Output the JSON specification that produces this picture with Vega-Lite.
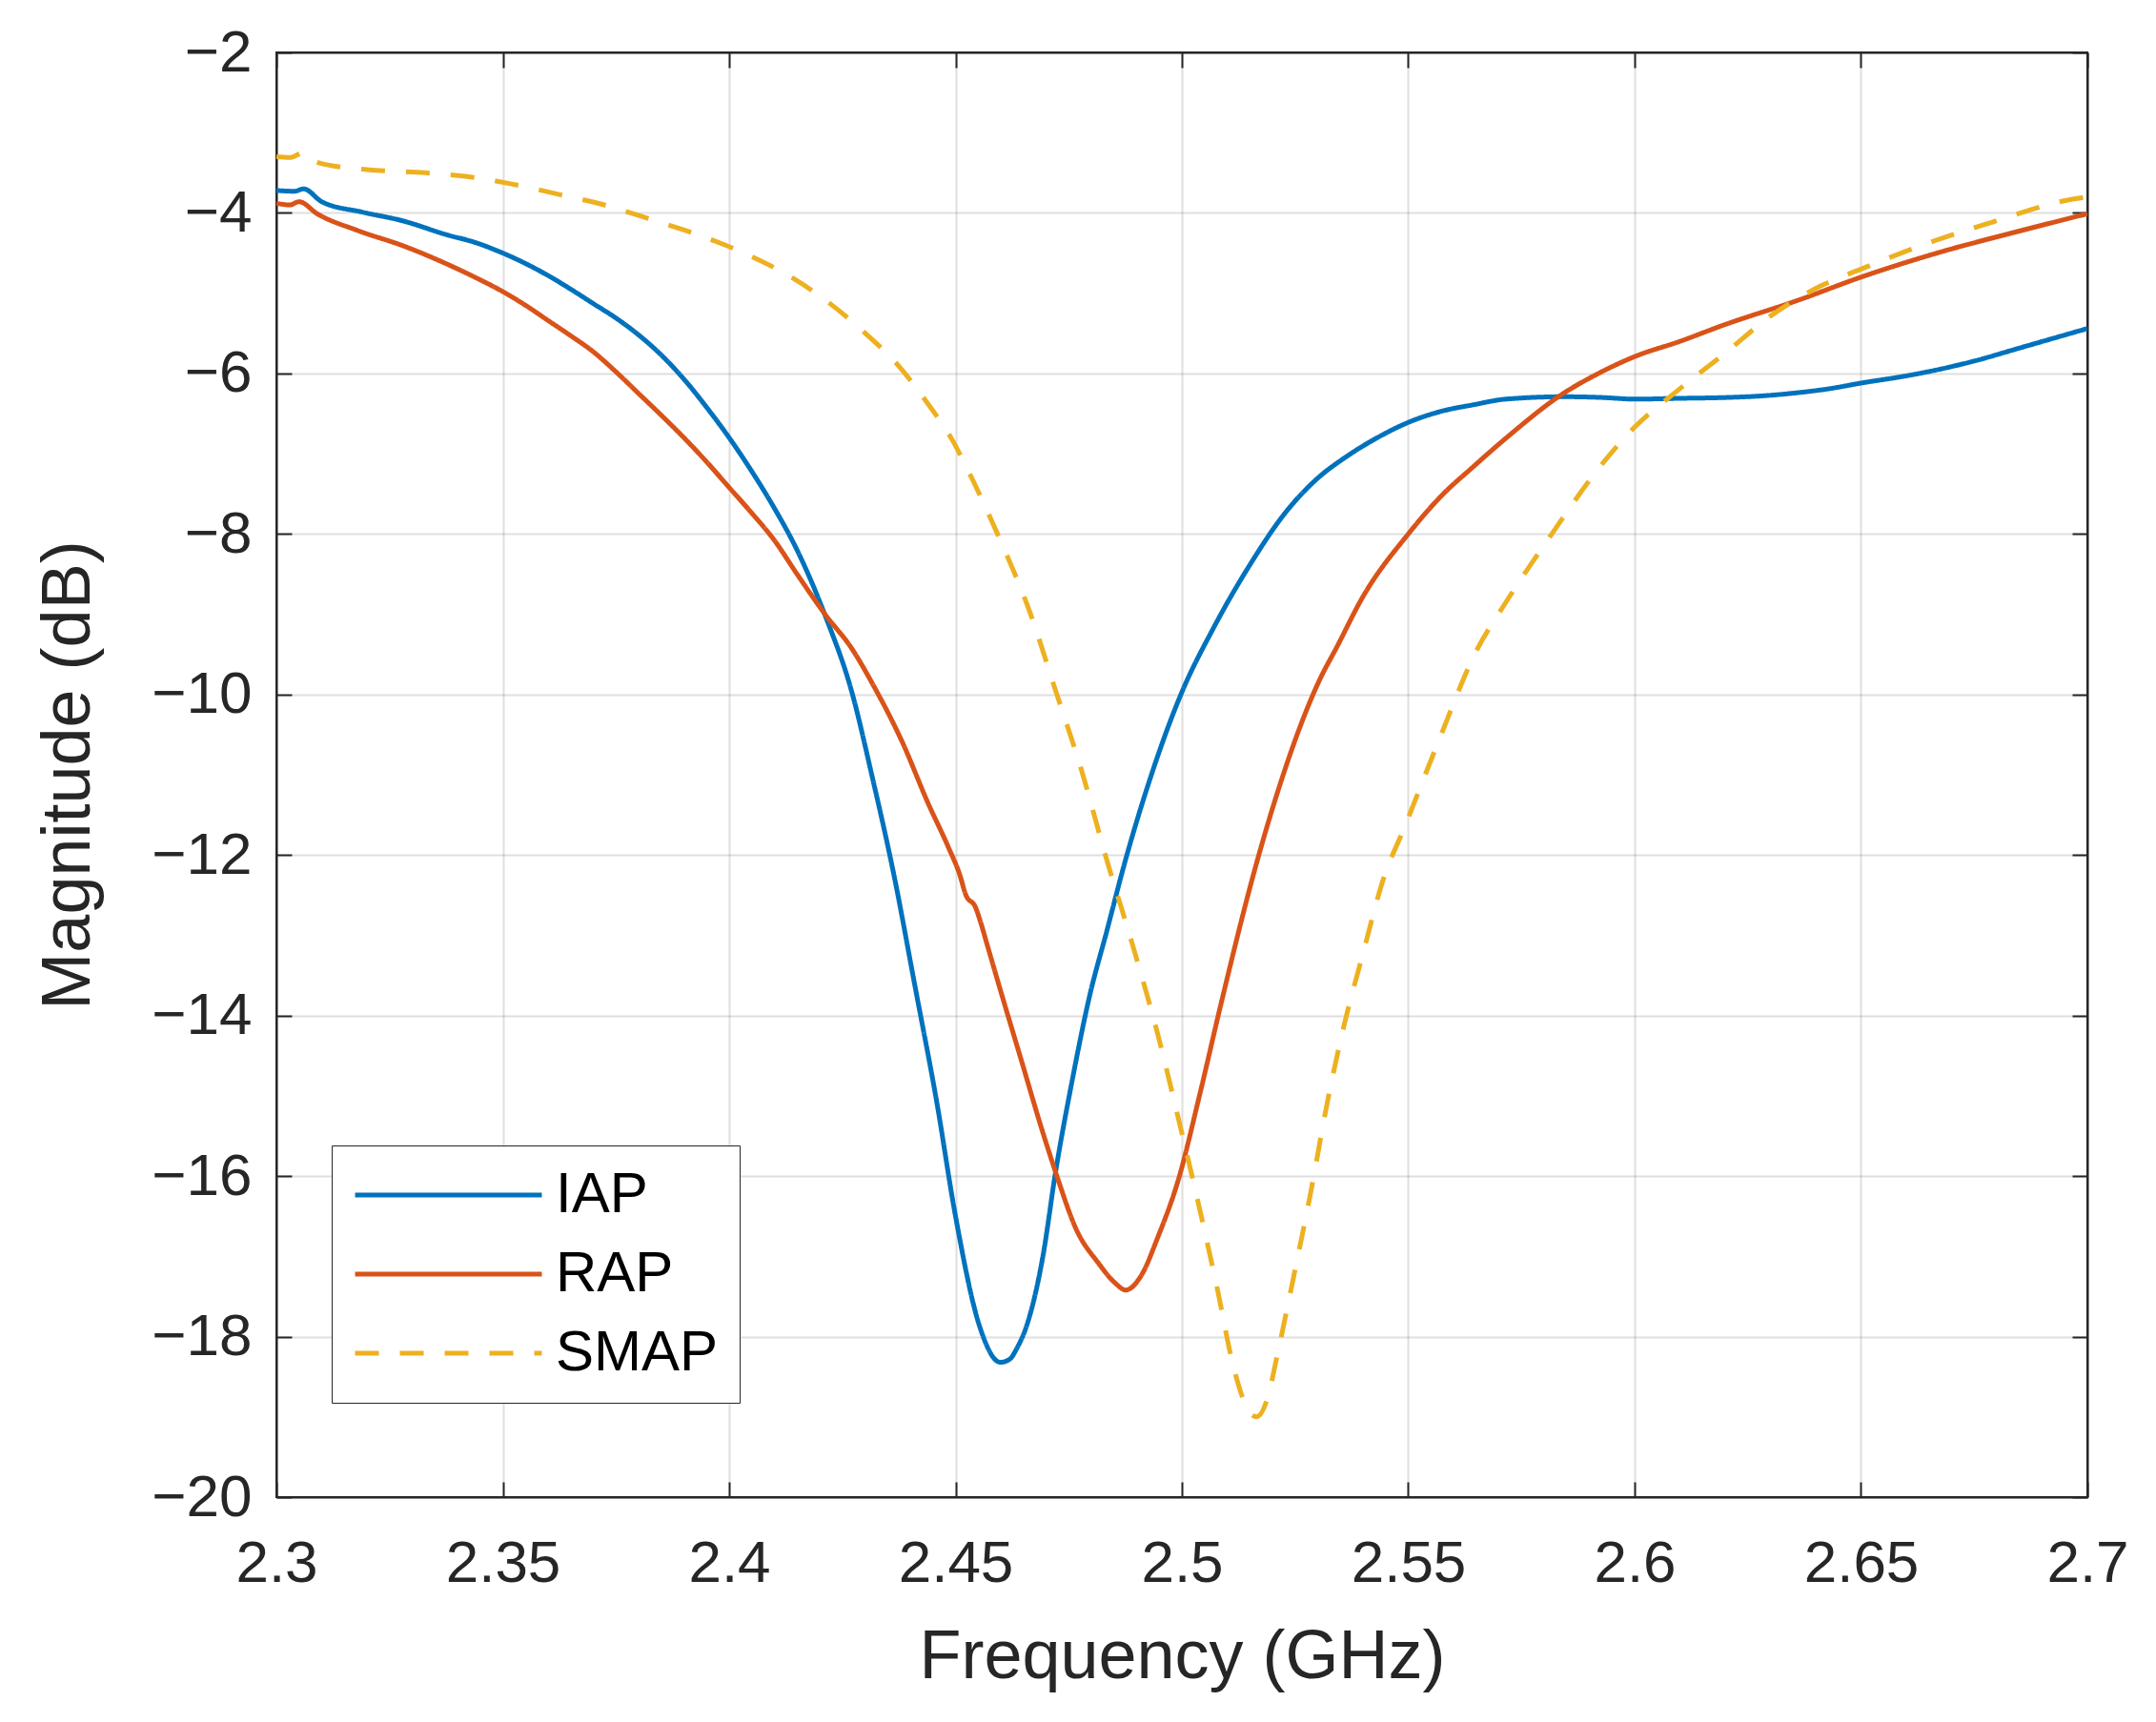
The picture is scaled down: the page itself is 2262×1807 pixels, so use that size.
{
  "$schema": "https://vega.github.io/schema/vega-lite/v6.json",
  "width": 1900,
  "height": 1516,
  "autosize": {"type": "none"},
  "padding": {"left": 290, "top": 55, "right": 72, "bottom": 236},
  "background": "white",
  "data": {
    "values": [
      {"series": "IAP", "f": 2.300, "mag": -3.72},
      {"series": "IAP", "f": 2.304, "mag": -3.73},
      {"series": "IAP", "f": 2.306, "mag": -3.70},
      {"series": "IAP", "f": 2.310, "mag": -3.86},
      {"series": "IAP", "f": 2.319, "mag": -3.99},
      {"series": "IAP", "f": 2.328, "mag": -4.10},
      {"series": "IAP", "f": 2.3375, "mag": -4.27},
      {"series": "IAP", "f": 2.344, "mag": -4.37},
      {"series": "IAP", "f": 2.350, "mag": -4.50},
      {"series": "IAP", "f": 2.355, "mag": -4.63},
      {"series": "IAP", "f": 2.360, "mag": -4.78},
      {"series": "IAP", "f": 2.365, "mag": -4.95},
      {"series": "IAP", "f": 2.370, "mag": -5.13},
      {"series": "IAP", "f": 2.375, "mag": -5.31},
      {"series": "IAP", "f": 2.380, "mag": -5.52},
      {"series": "IAP", "f": 2.385, "mag": -5.77},
      {"series": "IAP", "f": 2.390, "mag": -6.07},
      {"series": "IAP", "f": 2.395, "mag": -6.42},
      {"series": "IAP", "f": 2.400, "mag": -6.80},
      {"series": "IAP", "f": 2.405, "mag": -7.22},
      {"series": "IAP", "f": 2.410, "mag": -7.68},
      {"series": "IAP", "f": 2.415, "mag": -8.20},
      {"series": "IAP", "f": 2.4213, "mag": -9.03},
      {"series": "IAP", "f": 2.427, "mag": -9.95},
      {"series": "IAP", "f": 2.4317, "mag": -11.05},
      {"series": "IAP", "f": 2.4364, "mag": -12.25},
      {"series": "IAP", "f": 2.4411, "mag": -13.65},
      {"series": "IAP", "f": 2.4458, "mag": -15.06},
      {"series": "IAP", "f": 2.450, "mag": -16.50},
      {"series": "IAP", "f": 2.4552, "mag": -17.85},
      {"series": "IAP", "f": 2.4599, "mag": -18.32},
      {"series": "IAP", "f": 2.462, "mag": -18.28},
      {"series": "IAP", "f": 2.4636, "mag": -18.14},
      {"series": "IAP", "f": 2.4655, "mag": -17.90},
      {"series": "IAP", "f": 2.4693, "mag": -17.00},
      {"series": "IAP", "f": 2.4721, "mag": -15.95},
      {"series": "IAP", "f": 2.4758, "mag": -14.80},
      {"series": "IAP", "f": 2.4796, "mag": -13.76},
      {"series": "IAP", "f": 2.4834, "mag": -12.95},
      {"series": "IAP", "f": 2.4876, "mag": -12.05},
      {"series": "IAP", "f": 2.4928, "mag": -11.08},
      {"series": "IAP", "f": 2.500, "mag": -9.97},
      {"series": "IAP", "f": 2.5069, "mag": -9.18},
      {"series": "IAP", "f": 2.5154, "mag": -8.35},
      {"series": "IAP", "f": 2.5225, "mag": -7.76},
      {"series": "IAP", "f": 2.5295, "mag": -7.33},
      {"series": "IAP", "f": 2.5365, "mag": -7.03},
      {"series": "IAP", "f": 2.5435, "mag": -6.79},
      {"series": "IAP", "f": 2.550, "mag": -6.61},
      {"series": "IAP", "f": 2.5574, "mag": -6.47},
      {"series": "IAP", "f": 2.5644, "mag": -6.39},
      {"series": "IAP", "f": 2.5715, "mag": -6.32},
      {"series": "IAP", "f": 2.5845, "mag": -6.29},
      {"series": "IAP", "f": 2.593, "mag": -6.30},
      {"series": "IAP", "f": 2.600, "mag": -6.32},
      {"series": "IAP", "f": 2.610, "mag": -6.31},
      {"series": "IAP", "f": 2.620, "mag": -6.30},
      {"series": "IAP", "f": 2.628, "mag": -6.28},
      {"series": "IAP", "f": 2.636, "mag": -6.24},
      {"series": "IAP", "f": 2.643, "mag": -6.19},
      {"series": "IAP", "f": 2.650, "mag": -6.12},
      {"series": "IAP", "f": 2.660, "mag": -6.03},
      {"series": "IAP", "f": 2.668, "mag": -5.94},
      {"series": "IAP", "f": 2.676, "mag": -5.83},
      {"series": "IAP", "f": 2.684, "mag": -5.70},
      {"series": "IAP", "f": 2.692, "mag": -5.57},
      {"series": "IAP", "f": 2.700, "mag": -5.44},

      {"series": "RAP", "f": 2.300, "mag": -3.88},
      {"series": "RAP", "f": 2.303, "mag": -3.90},
      {"series": "RAP", "f": 2.305, "mag": -3.86},
      {"series": "RAP", "f": 2.309, "mag": -4.01},
      {"series": "RAP", "f": 2.318, "mag": -4.22},
      {"series": "RAP", "f": 2.328, "mag": -4.41},
      {"series": "RAP", "f": 2.337, "mag": -4.62},
      {"series": "RAP", "f": 2.3438, "mag": -4.80},
      {"series": "RAP", "f": 2.350, "mag": -4.98},
      {"series": "RAP", "f": 2.355, "mag": -5.15},
      {"series": "RAP", "f": 2.360, "mag": -5.34},
      {"series": "RAP", "f": 2.365, "mag": -5.53},
      {"series": "RAP", "f": 2.370, "mag": -5.73},
      {"series": "RAP", "f": 2.375, "mag": -5.98},
      {"series": "RAP", "f": 2.380, "mag": -6.25},
      {"series": "RAP", "f": 2.385, "mag": -6.52},
      {"series": "RAP", "f": 2.390, "mag": -6.80},
      {"series": "RAP", "f": 2.395, "mag": -7.10},
      {"series": "RAP", "f": 2.400, "mag": -7.42},
      {"series": "RAP", "f": 2.405, "mag": -7.74},
      {"series": "RAP", "f": 2.410, "mag": -8.08},
      {"series": "RAP", "f": 2.415, "mag": -8.50},
      {"series": "RAP", "f": 2.4213, "mag": -9.01},
      {"series": "RAP", "f": 2.427, "mag": -9.42},
      {"series": "RAP", "f": 2.4317, "mag": -9.87},
      {"series": "RAP", "f": 2.4383, "mag": -10.60},
      {"series": "RAP", "f": 2.4439, "mag": -11.35},
      {"series": "RAP", "f": 2.4484, "mag": -11.90},
      {"series": "RAP", "f": 2.4509, "mag": -12.24},
      {"series": "RAP", "f": 2.4523, "mag": -12.50},
      {"series": "RAP", "f": 2.4544, "mag": -12.65},
      {"series": "RAP", "f": 2.4555, "mag": -12.83},
      {"series": "RAP", "f": 2.4569, "mag": -13.10},
      {"series": "RAP", "f": 2.4600, "mag": -13.70},
      {"series": "RAP", "f": 2.4646, "mag": -14.57},
      {"series": "RAP", "f": 2.4693, "mag": -15.46},
      {"series": "RAP", "f": 2.4721, "mag": -15.95},
      {"series": "RAP", "f": 2.4768, "mag": -16.68},
      {"series": "RAP", "f": 2.4815, "mag": -17.08},
      {"series": "RAP", "f": 2.4852, "mag": -17.33},
      {"series": "RAP", "f": 2.4876, "mag": -17.42},
      {"series": "RAP", "f": 2.4909, "mag": -17.25},
      {"series": "RAP", "f": 2.4947, "mag": -16.76},
      {"series": "RAP", "f": 2.4993, "mag": -16.03},
      {"series": "RAP", "f": 2.504, "mag": -14.97},
      {"series": "RAP", "f": 2.5087, "mag": -13.84},
      {"series": "RAP", "f": 2.5163, "mag": -12.14},
      {"series": "RAP", "f": 2.521, "mag": -11.24},
      {"series": "RAP", "f": 2.5304, "mag": -9.82},
      {"series": "RAP", "f": 2.5343, "mag": -9.40},
      {"series": "RAP", "f": 2.5399, "mag": -8.79},
      {"series": "RAP", "f": 2.550, "mag": -8.00},
      {"series": "RAP", "f": 2.5574, "mag": -7.52},
      {"series": "RAP", "f": 2.5644, "mag": -7.16},
      {"series": "RAP", "f": 2.5715, "mag": -6.81},
      {"series": "RAP", "f": 2.5845, "mag": -6.24},
      {"series": "RAP", "f": 2.592, "mag": -6.00},
      {"series": "RAP", "f": 2.600, "mag": -5.79},
      {"series": "RAP", "f": 2.610, "mag": -5.60},
      {"series": "RAP", "f": 2.620, "mag": -5.39},
      {"series": "RAP", "f": 2.636, "mag": -5.09},
      {"series": "RAP", "f": 2.650, "mag": -4.80},
      {"series": "RAP", "f": 2.668, "mag": -4.48},
      {"series": "RAP", "f": 2.684, "mag": -4.24},
      {"series": "RAP", "f": 2.700, "mag": -4.01},

      {"series": "SMAP", "f": 2.300, "mag": -3.30},
      {"series": "SMAP", "f": 2.303, "mag": -3.31},
      {"series": "SMAP", "f": 2.306, "mag": -3.25},
      {"series": "SMAP", "f": 2.309, "mag": -3.37},
      {"series": "SMAP", "f": 2.320, "mag": -3.46},
      {"series": "SMAP", "f": 2.333, "mag": -3.50},
      {"series": "SMAP", "f": 2.3438, "mag": -3.56},
      {"series": "SMAP", "f": 2.352, "mag": -3.64},
      {"series": "SMAP", "f": 2.3625, "mag": -3.77},
      {"series": "SMAP", "f": 2.373, "mag": -3.91},
      {"series": "SMAP", "f": 2.3832, "mag": -4.09},
      {"series": "SMAP", "f": 2.3935, "mag": -4.28},
      {"series": "SMAP", "f": 2.4033, "mag": -4.50},
      {"series": "SMAP", "f": 2.4125, "mag": -4.76},
      {"series": "SMAP", "f": 2.4216, "mag": -5.10},
      {"series": "SMAP", "f": 2.4297, "mag": -5.48},
      {"series": "SMAP", "f": 2.4375, "mag": -5.91},
      {"series": "SMAP", "f": 2.4438, "mag": -6.37},
      {"series": "SMAP", "f": 2.4494, "mag": -6.84},
      {"series": "SMAP", "f": 2.4533, "mag": -7.27},
      {"series": "SMAP", "f": 2.4599, "mag": -8.08},
      {"series": "SMAP", "f": 2.4664, "mag": -8.97},
      {"series": "SMAP", "f": 2.4721, "mag": -9.95},
      {"series": "SMAP", "f": 2.4777, "mag": -10.92},
      {"series": "SMAP", "f": 2.4834, "mag": -12.06},
      {"series": "SMAP", "f": 2.489, "mag": -13.10},
      {"series": "SMAP", "f": 2.4947, "mag": -14.24},
      {"series": "SMAP", "f": 2.4993, "mag": -15.30},
      {"series": "SMAP", "f": 2.504, "mag": -16.43},
      {"series": "SMAP", "f": 2.5078, "mag": -17.40},
      {"series": "SMAP", "f": 2.5115, "mag": -18.40},
      {"series": "SMAP", "f": 2.5145, "mag": -18.90},
      {"series": "SMAP", "f": 2.5165, "mag": -19.00},
      {"series": "SMAP", "f": 2.519, "mag": -18.75},
      {"series": "SMAP", "f": 2.521, "mag": -18.25},
      {"series": "SMAP", "f": 2.5247, "mag": -17.25},
      {"series": "SMAP", "f": 2.5285, "mag": -16.19},
      {"series": "SMAP", "f": 2.5322, "mag": -15.06},
      {"series": "SMAP", "f": 2.536, "mag": -14.08},
      {"series": "SMAP", "f": 2.5398, "mag": -13.27},
      {"series": "SMAP", "f": 2.5445, "mag": -12.30},
      {"series": "SMAP", "f": 2.5492, "mag": -11.65},
      {"series": "SMAP", "f": 2.5567, "mag": -10.58},
      {"series": "SMAP", "f": 2.565, "mag": -9.46},
      {"series": "SMAP", "f": 2.5709, "mag": -8.91},
      {"series": "SMAP", "f": 2.5817, "mag": -8.00},
      {"series": "SMAP", "f": 2.5925, "mag": -7.15},
      {"series": "SMAP", "f": 2.600, "mag": -6.67},
      {"series": "SMAP", "f": 2.6089, "mag": -6.24},
      {"series": "SMAP", "f": 2.6197, "mag": -5.76},
      {"series": "SMAP", "f": 2.6304, "mag": -5.27},
      {"series": "SMAP", "f": 2.6411, "mag": -4.91},
      {"series": "SMAP", "f": 2.650, "mag": -4.70},
      {"series": "SMAP", "f": 2.6626, "mag": -4.42},
      {"series": "SMAP", "f": 2.6787, "mag": -4.12},
      {"series": "SMAP", "f": 2.6948, "mag": -3.85},
      {"series": "SMAP", "f": 2.700, "mag": -3.80}
    ]
  },
  "layer": [
    {
      "mark": {"type": "line", "strokeWidth": 5, "interpolate": "monotone", "clip": true},
      "encoding": {
        "x": {
          "field": "f",
          "type": "quantitative",
          "scale": {"domain": [2.3, 2.7], "nice": false, "zero": false},
          "axis": {
            "title": "Frequency (GHz)",
            "values": [2.3, 2.35, 2.4, 2.45, 2.5, 2.55, 2.6, 2.65, 2.7],
            "format": "~g",
            "grid": true,
            "tickSize": -16,
            "labelPadding": 55,
            "titlePadding": 32
          }
        },
        "y": {
          "field": "mag",
          "type": "quantitative",
          "scale": {"domain": [-20, -2], "nice": false, "zero": false},
          "axis": {
            "title": "Magnitude (dB)",
            "values": [-20, -18, -16, -14, -12, -10, -8, -6, -4, -2],
            "grid": true,
            "tickSize": -16,
            "labelPadding": 42,
            "titlePadding": 50
          }
        },
        "color": {
          "field": "series",
          "type": "nominal",
          "scale": {"domain": ["IAP", "RAP", "SMAP"], "range": ["#0072BD", "#D95319", "#EDB120"]},
          "legend": {
            "title": null,
            "orient": "none",
            "legendX": 58,
            "legendY": 1147,
            "symbolType": "stroke",
            "symbolSize": 38400,
            "symbolStrokeWidth": 5,
            "clipHeight": 60,
            "labelFontSize": 60,
            "labelFont": "Liberation Sans",
            "labelColor": "#000000",
            "labelLimit": 500,
            "labelOffset": 12,
            "rowPadding": 23,
            "padding": 22,
            "strokeColor": "#262626",
            "fillColor": "white"
          }
        },
        "strokeDash": {
          "field": "series",
          "type": "nominal",
          "scale": {"domain": ["IAP", "RAP", "SMAP"], "range": [[1, 0], [1, 0], [25, 22]]},
          "legend": {
            "title": null,
            "orient": "none",
            "legendX": 58,
            "legendY": 1147,
            "symbolType": "stroke",
            "symbolSize": 38400,
            "symbolStrokeWidth": 5,
            "clipHeight": 60,
            "labelFontSize": 60,
            "labelFont": "Liberation Sans",
            "labelColor": "#000000",
            "labelLimit": 500,
            "labelOffset": 12,
            "rowPadding": 23,
            "padding": 22,
            "strokeColor": "#262626",
            "fillColor": "white"
          }
        }
      }
    },
    {
      "mark": {"type": "point", "opacity": 0},
      "encoding": {
        "x": {
          "field": "f",
          "type": "quantitative",
          "axis": {
            "orient": "top",
            "title": null,
            "labels": false,
            "grid": false,
            "values": [2.3, 2.35, 2.4, 2.45, 2.5, 2.55, 2.6, 2.65, 2.7],
            "tickSize": -16
          }
        },
        "y": {
          "field": "mag",
          "type": "quantitative",
          "axis": {
            "orient": "right",
            "title": null,
            "labels": false,
            "grid": false,
            "values": [-20, -18, -16, -14, -12, -10, -8, -6, -4, -2],
            "tickSize": -16
          }
        }
      }
    }
  ],
  "resolve": {"axis": {"x": "independent", "y": "independent"}},
  "config": {
    "font": "Liberation Sans",
    "view": {"stroke": "#262626", "strokeWidth": 2},
    "axis": {
      "labelFont": "Liberation Sans",
      "labelFontSize": 62,
      "labelColor": "#262626",
      "titleFont": "Liberation Sans",
      "titleFontSize": 72,
      "titleFontWeight": "normal",
      "titleColor": "#262626",
      "domainColor": "#262626",
      "domainWidth": 2,
      "tickColor": "#262626",
      "tickWidth": 2,
      "gridColor": "#262626",
      "gridOpacity": 0.15,
      "gridWidth": 2,
      "labelFlush": false,
      "labelOverlap": false
    }
  }
}
